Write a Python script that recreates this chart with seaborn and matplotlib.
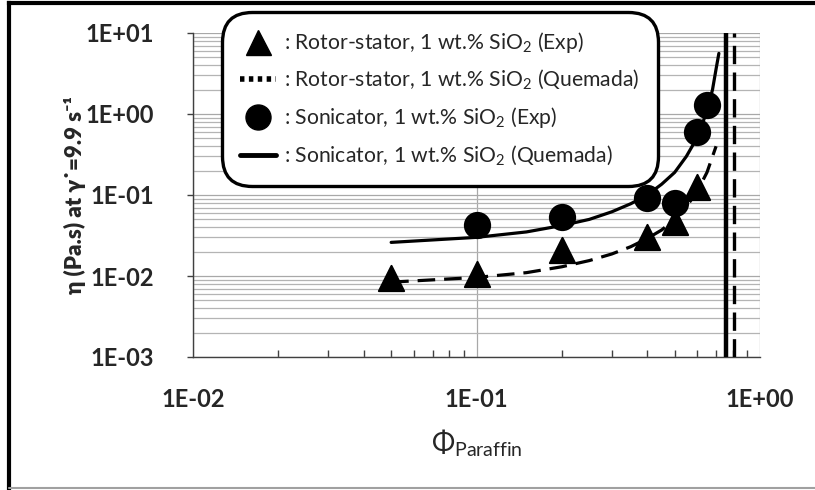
import numpy as np
import pandas as pd
import matplotlib.pyplot as plt
import seaborn as sns
from matplotlib.lines import Line2D
from matplotlib.ticker import LogLocator, FuncFormatter, NullFormatter

# Rotor-stator, experimental points
phi_rs = [0.05, 0.1, 0.2, 0.4, 0.5, 0.6]
eta_rs = [0.0095, 0.0105, 0.021, 0.030, 0.046, 0.125]

# Sonicator, experimental points
phi_son = [0.1, 0.2, 0.4, 0.5, 0.6, 0.65]
eta_son = [0.043, 0.053, 0.091, 0.080, 0.60, 1.30]

# Quemada curves
phi_q_rs = [0.05, 0.1, 0.15, 0.2, 0.25, 0.3, 0.35, 0.4, 0.45, 0.5, 0.55, 0.6, 0.65, 0.7]
eta_q_rs = [0.0084, 0.0096, 0.011, 0.013, 0.0155, 0.0187, 0.023, 0.029, 0.037, 0.050,
            0.072, 0.11, 0.19, 0.40]
phi_q_son = [0.05, 0.1, 0.15, 0.2, 0.25, 0.3, 0.35, 0.4, 0.45, 0.5, 0.55, 0.6, 0.65,
             0.68, 0.7, 0.716]
eta_q_son = [0.026, 0.030, 0.035, 0.042, 0.050, 0.062, 0.078, 0.10, 0.136, 0.19, 0.30,
             0.51, 1.08, 2.0, 3.6, 5.6]

# maximum packing fractions (vertical lines)
phi_max_son = 0.76
phi_max_rs = 0.81

labels = [': Rotor-stator, 1 wt.% SiO$_\\mathregular{2}$ (Exp)',
          ': Rotor-stator, 1 wt.% SiO$_\\mathregular{2}$ (Quemada)',
          ': Sonicator, 1 wt.% SiO$_\\mathregular{2}$ (Exp)',
          ': Sonicator, 1 wt.% SiO$_\\mathregular{2}$ (Quemada)']

sns.set_style('white')
plt.rcParams['font.family'] = ['Lato', 'DejaVu Sans']
plt.rcParams['mathtext.fontset'] = 'custom'
plt.rcParams['mathtext.rm'] = 'Lato'
plt.rcParams['mathtext.bf'] = 'Lato:bold'

fig = plt.figure(figsize=(8.15, 4.9), dpi=100)
ax = fig.add_axes([193 / 815, 1 - 357 / 490, 567 / 815, 324 / 490])

rs = pd.DataFrame({'phi': phi_rs, 'eta': eta_rs})
son = pd.DataFrame({'phi': phi_son, 'eta': eta_son})
q_rs = pd.DataFrame({'phi': phi_q_rs, 'eta': eta_q_rs})
q_son = pd.DataFrame({'phi': phi_q_son, 'eta': eta_q_son})

ax.set_xscale('log')
ax.set_yscale('log')

sns.lineplot(data=q_rs, x='phi', y='eta', ax=ax, color='black', lw=2.3,
             zorder=3).lines[-1].set_dashes((5.5, 2.8))
sns.lineplot(data=q_son, x='phi', y='eta', ax=ax, color='black', lw=2.3, zorder=3)
sns.scatterplot(data=rs, x='phi', y='eta', ax=ax, marker='^', s=330, color='black',
                edgecolor='black', zorder=4)
sns.scatterplot(data=son, x='phi', y='eta', ax=ax, marker='o', s=330, color='black',
                edgecolor='black', zorder=4)

ax.axvline(phi_max_son, color='black', lw=3.2, zorder=3)
ax.axvline(phi_max_rs, color='black', lw=2.4, ls=(0, (5.5, 2.5)), zorder=3)

ax.set_xlim(1e-2, 1)
ax.set_ylim(1e-3, 10)

fmt = FuncFormatter(lambda v, p: f'{v:.0E}')
ax.xaxis.set_major_locator(LogLocator(base=10, numticks=10))
ax.xaxis.set_minor_locator(LogLocator(base=10, subs=np.arange(2, 10), numticks=20))
ax.yaxis.set_major_locator(LogLocator(base=10, numticks=10))
ax.yaxis.set_minor_locator(LogLocator(base=10, subs=np.arange(2, 10), numticks=20))
ax.xaxis.set_major_formatter(fmt)
ax.yaxis.set_major_formatter(fmt)
ax.xaxis.set_minor_formatter(NullFormatter())
ax.yaxis.set_minor_formatter(NullFormatter())

ax.grid(True, which='major', axis='both', color='#a8a8a8', lw=0.9)
ax.grid(True, which='minor', axis='y', color='#b4b4b4', lw=0.9)
ax.set_axisbelow(True)

ax.tick_params(axis='x', which='major', direction='out', length=8, width=1,
               color='#404040', pad=14, labelsize=17)
ax.tick_params(axis='x', which='minor', direction='in', length=5, width=1,
               color='#404040', bottom=True)
ax.tick_params(axis='y', which='major', direction='out', length=4, width=1,
               color='#404040', pad=24, labelsize=17, left=True)
ax.tick_params(axis='y', which='minor', left=False)
for lab in ax.get_xticklabels() + ax.get_yticklabels():
    lab.set_fontweight('bold')

for side in ['top', 'right']:
    ax.spines[side].set_visible(False)
for side in ['left', 'bottom']:
    ax.spines[side].set_color('#404040')
    ax.spines[side].set_linewidth(1)

ax.set_xlabel('$\\mathregular{\\Phi}_\\mathregular{Paraffin}$', fontsize=20, labelpad=12)
ax.set_ylabel('η (Pa.s) at γ˙=9.9 s⁻¹', fontsize=16, fontweight='heavy', labelpad=0)

handles = [
    Line2D([], [], ls='none', marker='^', ms=18, color='black'),
    Line2D([], [], color='black', lw=4, ls=(0, (0.8, 0.8)), dash_capstyle='butt'),
    Line2D([], [], ls='none', marker='o', ms=18, color='black'),
    Line2D([], [], color='black', lw=3.5),
]
leg = ax.legend(handles, labels, loc='upper left', bbox_to_anchor=(222 / 815, 1 - 12 / 490),
                bbox_transform=fig.transFigure, fontsize=15.2, frameon=True,
                handlelength=1.7, handletextpad=0.4, labelspacing=0.62,
                borderpad=0.85, borderaxespad=0, fancybox=True)
frame = leg.get_frame()
frame.set_edgecolor('black')
frame.set_linewidth(2.4)
frame.set_facecolor('white')
frame.set_alpha(1)
frame.set_boxstyle('round', pad=0.0, rounding_size=1.4)
leg.set_zorder(10)

# chart-area border
fig.add_artist(Line2D([9 / 815, 9 / 815], [2 / 490, 1 - 3 / 490], transform=fig.transFigure,
                      color='black', lw=3, solid_capstyle='projecting'))
fig.add_artist(Line2D([9 / 815, 1.0], [1 - 3 / 490, 1 - 3 / 490], transform=fig.transFigure,
                      color='black', lw=3, solid_capstyle='projecting'))
fig.add_artist(Line2D([9 / 815, 1.0], [2 / 490, 2 / 490], transform=fig.transFigure,
                      color='#a0a0a0', lw=1.5))

fig.savefig('out.png', dpi=100)
